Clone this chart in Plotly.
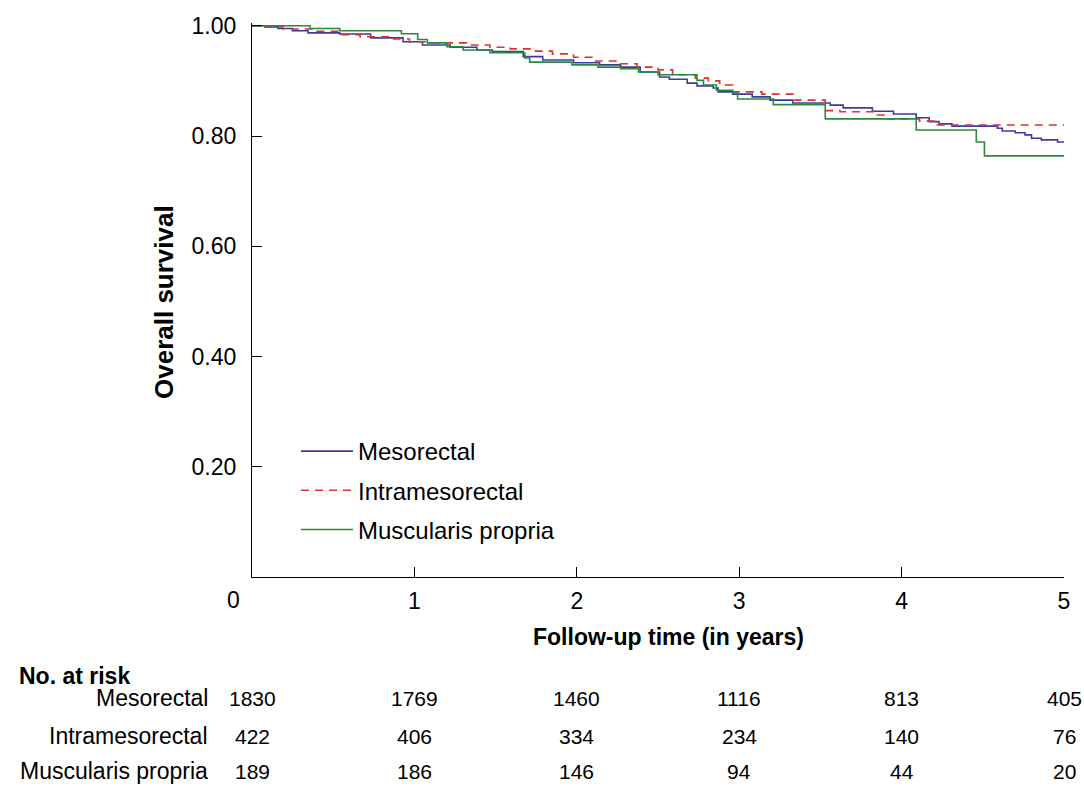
import plotly.graph_objects as go

# ---- data ----
meso_t = [0, 0.08, 0.16, 0.25, 0.345, 0.54, 0.73, 0.93, 1.05, 1.22, 1.385, 1.48, 1.67, 1.79,
          1.98, 2.14, 2.27, 2.39, 2.51, 2.57, 2.68, 2.74, 2.84, 2.87, 2.96, 3.08, 3.19, 3.33,
          3.56, 3.64, 3.82, 3.95, 4.09, 4.17, 4.23, 4.31, 4.59, 4.62, 4.70, 4.76, 4.80, 4.86,
          4.96, 5.0]
meso_s = [1.0, 0.998, 0.995, 0.991, 0.987, 0.985, 0.978, 0.971, 0.965, 0.961, 0.956, 0.953,
          0.944, 0.938, 0.933, 0.929, 0.925, 0.916, 0.907, 0.903, 0.896, 0.891, 0.887, 0.880,
          0.876, 0.871, 0.865, 0.860, 0.856, 0.851, 0.845, 0.840, 0.833, 0.826, 0.822, 0.818,
          0.814, 0.809, 0.806, 0.802, 0.796, 0.793, 0.789, 0.789]

intra_t = [0, 0.09, 0.19, 0.40, 0.54, 0.665, 0.85, 0.97, 1.10, 1.32, 1.465, 1.59, 1.73, 1.85,
           1.98, 2.10, 2.27, 2.37, 2.50, 2.59, 2.73, 2.81, 2.88, 2.96, 3.14, 3.34, 3.53, 3.62,
           3.85, 3.91, 4.11, 4.22, 5.0]
intra_s = [1.0, 0.998, 0.994, 0.990, 0.984, 0.980, 0.976, 0.971, 0.969, 0.965, 0.961, 0.958,
           0.954, 0.949, 0.943, 0.936, 0.931, 0.925, 0.920, 0.911, 0.905, 0.900, 0.8925, 0.880,
           0.876, 0.865, 0.846, 0.844, 0.838, 0.831, 0.827, 0.820, 0.820]

musc_t = [0, 0.357, 0.54, 0.92, 1.02, 1.08, 1.20, 1.30, 1.465, 1.68, 1.71, 1.97, 2.13, 2.27,
          2.38, 2.50, 2.74, 2.78, 2.86, 2.96, 2.99, 3.21, 3.53, 4.09, 4.46, 4.51, 5.0]
musc_s = [1.0, 0.995, 0.991, 0.9855, 0.975, 0.969, 0.962, 0.956, 0.951, 0.9415, 0.934, 0.929,
          0.925, 0.922, 0.916, 0.911, 0.901, 0.8925, 0.883, 0.878, 0.867, 0.857, 0.831, 0.811,
          0.789, 0.764, 0.764]

risk_times = [0, 1, 2, 3, 4, 5]
risk_groups = ["Mesorectal", "Intramesorectal", "Muscularis propria"]
risk_meso = [1830, 1769, 1460, 1116, 813, 405]
risk_intra = [422, 406, 334, 234, 140, 76]
risk_musc = [189, 186, 146, 94, 44, 20]

y_tickvals = [0.2, 0.4, 0.6, 0.8, 1.0]
y_ticktext = ["0.20", "0.40", "0.60", "0.80", "1.00"]
x_tickvals = [1, 2, 3, 4, 5]

FONT = "Liberation Sans, Arial, Helvetica, sans-serif"

fig = go.Figure()
fig.add_trace(go.Scatter(x=meso_t, y=meso_s, mode="lines", line_shape="hv",
                         name="Mesorectal", legendgroup="a",
                         line=dict(color="#3c3c9c", width=1.6)))
fig.add_trace(go.Scatter(x=intra_t, y=intra_s, mode="lines", line_shape="hv",
                         name="Intramesorectal", legendgroup="b",
                         line=dict(color="#e0312f", width=1.6, dash="8px,6px")))
fig.add_trace(go.Scatter(x=musc_t, y=musc_s, mode="lines", line_shape="hv",
                         name="Muscularis propria", legendgroup="c",
                         line=dict(color="#2b8a3c", width=1.6)))

W, H = 1084, 787
L, R, T, B = 252, 20, 23, 210
pw = W - L - R
ph = H - T - B

def px_x(p):
    return (p - L) / pw

def px_y(p):
    return (H - B - p) / ph

ann = []
# x-axis origin label
ann.append(dict(text="0", x=px_x(233), y=px_y(600), xref="paper", yref="paper",
                showarrow=False, font=dict(size=23, color="black", family=FONT),
                xanchor="center", yanchor="middle"))
# axis titles
ann.append(dict(text="<b>Follow-up time (in years)</b>", x=px_x(668), y=px_y(637),
                xref="paper", yref="paper", showarrow=False,
                font=dict(size=23, color="black", family=FONT),
                xanchor="center", yanchor="middle"))
ann.append(dict(text="<b>Overall survival</b>", x=px_x(164), y=px_y(302),
                xref="paper", yref="paper", showarrow=False, textangle=-90,
                font=dict(size=26, color="black", family=FONT),
                xanchor="center", yanchor="middle"))
# risk table
ann.append(dict(text="<b>No. at risk</b>", x=px_x(17), y=px_y(676), xref="paper", yref="paper",
                showarrow=False, font=dict(size=23, color="black", family=FONT),
                xanchor="left", yanchor="middle"))
row_y = [698, 736, 771]
for name, vals, ry in zip(risk_groups, [risk_meso, risk_intra, risk_musc], row_y):
    ann.append(dict(text=name, x=px_x(210), y=px_y(ry), xref="paper", yref="paper",
                    showarrow=False, font=dict(size=23, color="black", family=FONT),
                    xanchor="right", yanchor="middle"))
    for t, v in zip(risk_times, vals):
        ann.append(dict(text=str(v), x=t, y=px_y(ry), xref="x", yref="paper",
                        showarrow=False, font=dict(size=21, color="black", family=FONT),
                        xanchor="center", yanchor="middle"))

fig.update_layout(
    width=W, height=H,
    margin=dict(l=L, r=R, t=T, b=B, autoexpand=False),
    paper_bgcolor="white", plot_bgcolor="white",
    font=dict(family=FONT, color="black"),
    showlegend=True,
    legend=dict(x=px_x(296), y=px_y(429), xanchor="left", yanchor="top",
                bgcolor="rgba(0,0,0,0)", font=dict(size=24, color="black", family=FONT),
                traceorder="grouped", tracegroupgap=5, itemwidth=52),
    xaxis=dict(range=[0, 5], tickvals=x_tickvals, ticks="inside", ticklen=10, tickwidth=1.3,
               tickcolor="black", showline=True, linecolor="black", linewidth=1.3,
               showgrid=False, zeroline=False, ticklabelstandoff=3,
               tickfont=dict(size=23, color="black", family=FONT)),
    yaxis=dict(range=[0, 1.005], tickvals=y_tickvals, ticktext=y_ticktext, ticks="inside",
               ticklen=10, tickwidth=1.3, tickcolor="black", showline=True,
               linecolor="black", linewidth=1.3, showgrid=False, zeroline=False,
               ticklabelstandoff=10,
               tickfont=dict(size=23, color="black", family=FONT)),
    annotations=ann,
)

fig.write_html("out.html", config={"displayModeBar": False},
               post_script="document.body.style.margin='0px';document.body.style.overflow='hidden';")
